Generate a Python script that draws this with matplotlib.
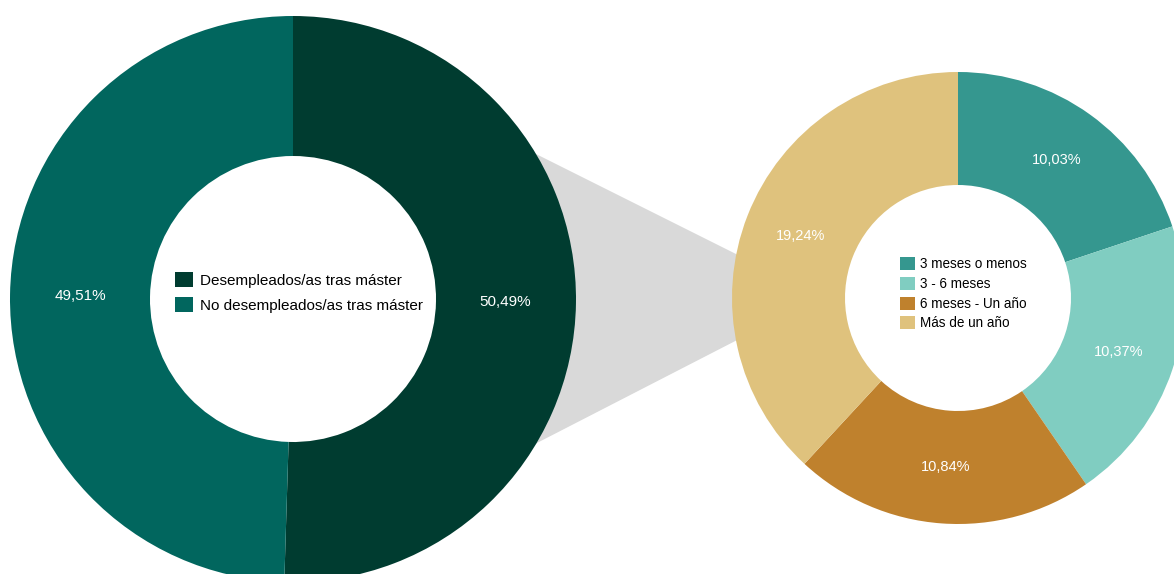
import matplotlib.pyplot as plt
from matplotlib.patches import Polygon

plt.rcParams['font.family'] = ['Liberation Sans', 'DejaVu Sans']

# Data
main_labels = ['Desempleados/as tras máster', 'No desempleados/as tras máster']
main_values = [50.49, 49.51]
main_colors = ['#003c30', '#01665e']

detail_labels = ['3 meses o menos', '3 - 6 meses', '6 meses - Un año', 'Más de un año']
detail_values = [10.03, 10.37, 10.84, 19.24]
detail_colors = ['#35978f', '#80cdc1', '#bf812d', '#dfc27d']

W, H = 1174, 574


def px(x, y):
    # pixel coords (origin top-left) -> data coords
    return (x, H - y)


def pct_fmt(v):
    return f'{v:.2f}%'.replace('.', ',')


fig = plt.figure(figsize=(W / 100, H / 100), dpi=100)
ax = fig.add_axes([0, 0, 1, 1])

# grey connector between the two donuts (sits behind the rings)
conn = Polygon([px(500, 136), px(780, 276), px(780, 318), px(500, 462)],
               closed=True, facecolor='#d9d9d9', edgecolor='none', zorder=0)
ax.add_patch(conn)

# main donut
r1 = 283
wedges1, _, _ = ax.pie(main_values, colors=main_colors, center=px(293, 299), radius=r1,
                       startangle=90, counterclock=False,
                       autopct=lambda p: pct_fmt(p * sum(main_values) / 100),
                       pctdistance=0.75,
                       wedgeprops=dict(width=r1 - 143, linewidth=0),
                       textprops=dict(color='white', fontsize=11))

# detail donut
r2 = 226
wedges2, _, _ = ax.pie(detail_values, colors=detail_colors, center=px(958, 298), radius=r2,
                       startangle=90, counterclock=False,
                       autopct=lambda p: pct_fmt(p * sum(detail_values) / 100),
                       pctdistance=0.75,
                       wedgeprops=dict(width=r2 - 113, linewidth=0),
                       textprops=dict(color='white', fontsize=10.5))

for w in wedges1 + wedges2:
    w.set_zorder(1)

ax.set_xlim(0, W)
ax.set_ylim(0, H)
ax.set_aspect('equal')
ax.axis('off')

leg1 = ax.legend(wedges1, main_labels, loc='upper left',
                 bbox_to_anchor=(175 / W, 1 - 272 / H), bbox_transform=fig.transFigure,
                 frameon=False, fontsize=11, handlelength=1.15, handleheight=1.15,
                 handletextpad=0.5, labelspacing=0.62, borderpad=0, borderaxespad=0)
ax.add_artist(leg1)

ax.legend(wedges2, detail_labels, loc='upper left',
          bbox_to_anchor=(900 / W, 1 - 257 / H), bbox_transform=fig.transFigure,
          frameon=False, fontsize=9.75, handlelength=1.1, handleheight=1.1,
          handletextpad=0.4, labelspacing=0.42, borderpad=0, borderaxespad=0)

fig.savefig('out.png', dpi=100, facecolor='white')
